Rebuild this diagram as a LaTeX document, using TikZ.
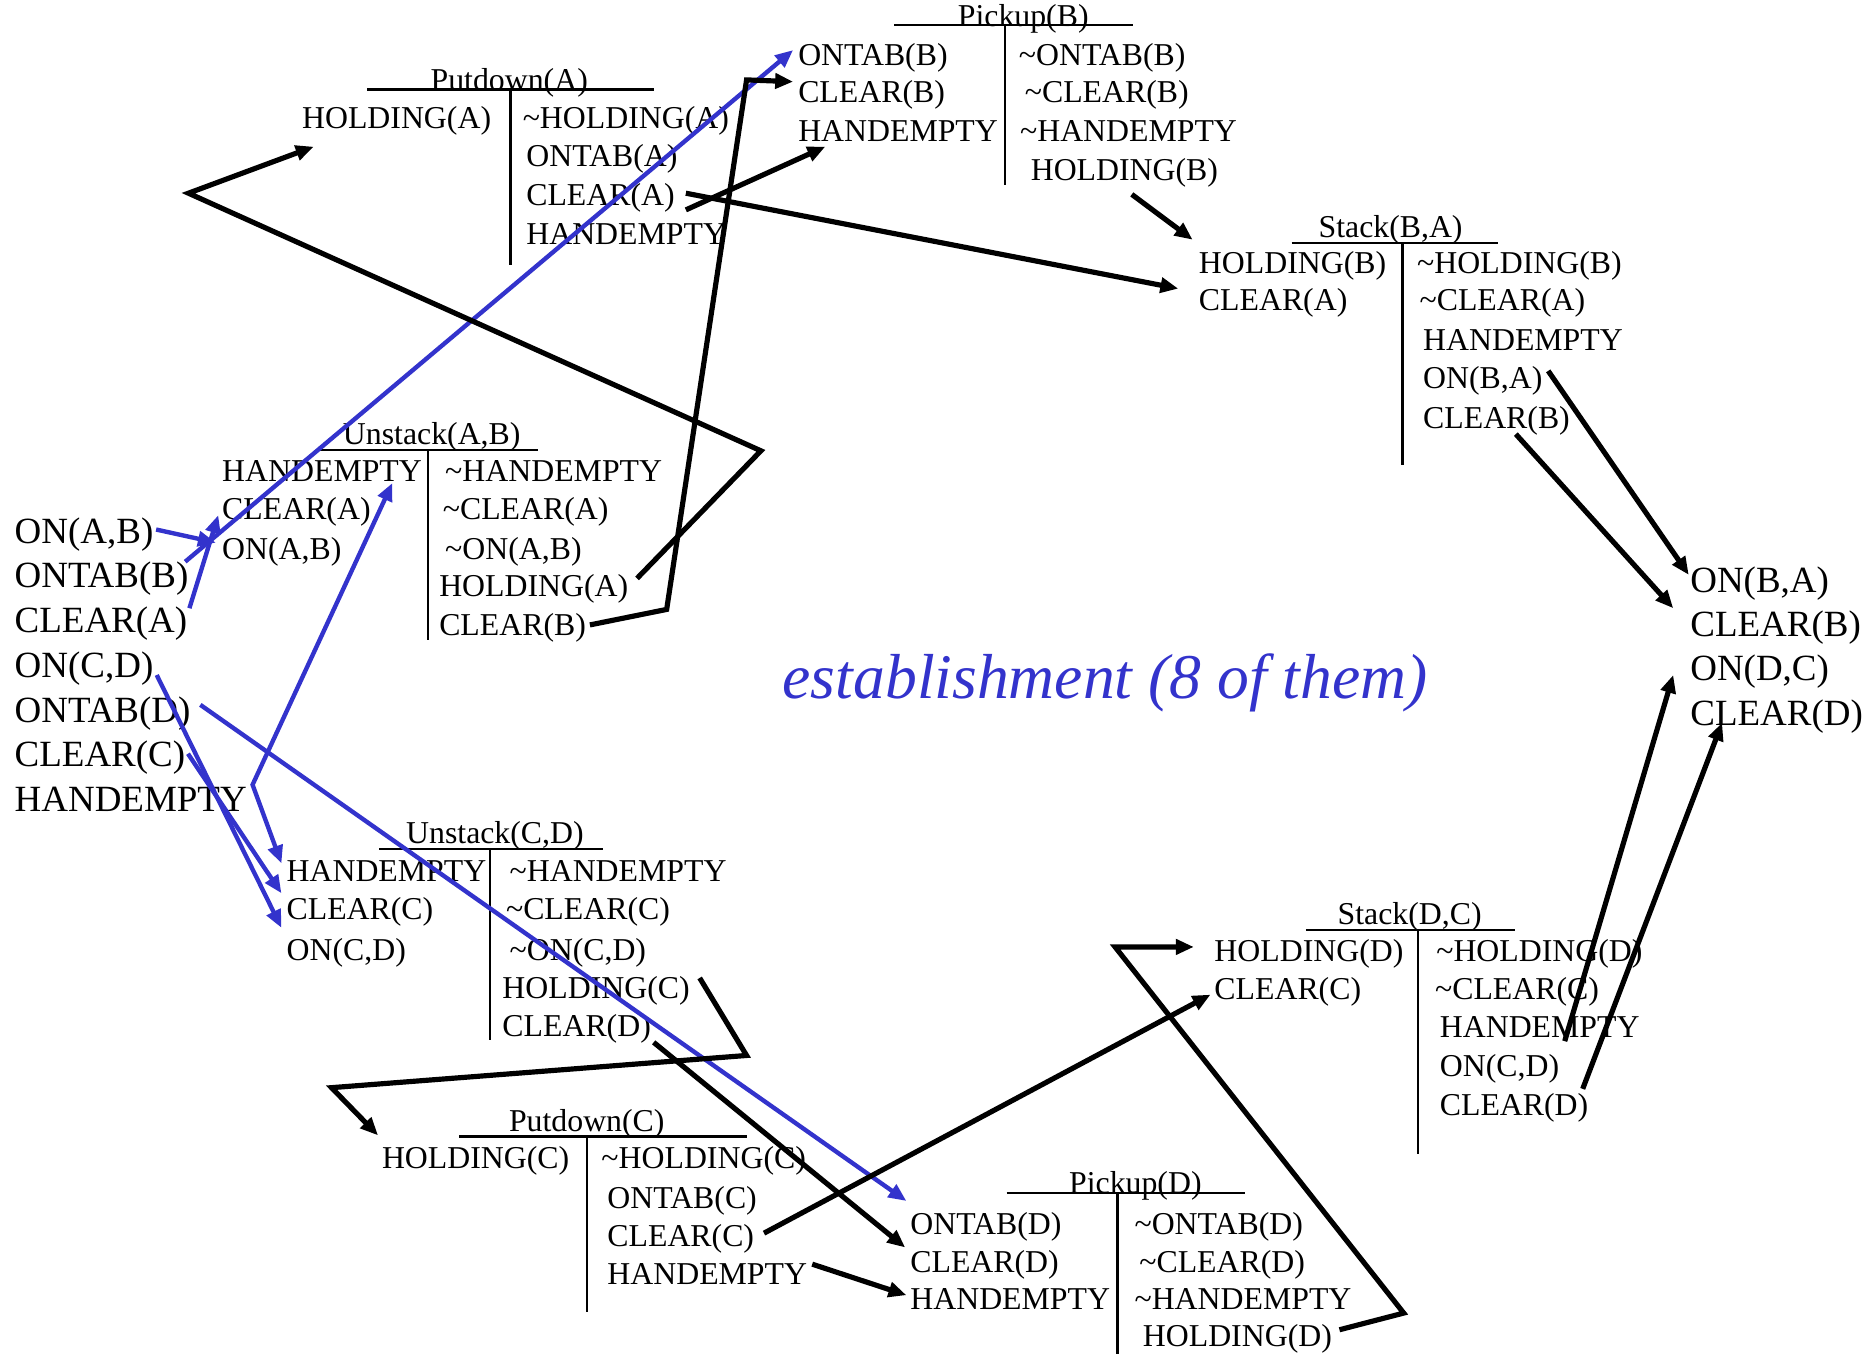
\documentclass[tikz,border=0pt]{standalone}
\usepackage{fontspec}
\setmainfont{Liberation Serif}
\usetikzlibrary{arrows.meta,calc}
\definecolor{estblue}{RGB}{51,51,204}
\begin{document}
\begin{tikzpicture}[x=0.6pt,y=-0.6pt,
  >={Triangle[length=9pt,width=7.5pt]},
  lit/.style={font=\fontsize{16}{19}\selectfont, inner sep=0pt, anchor=base west},
  state/.style={font=\fontsize{18.6}{22}\selectfont, inner sep=0pt, anchor=base west},
  optitle/.style={font=\fontsize{16}{19}\selectfont, inner sep=0pt, anchor=base},
  tbar/.style={line width=1.1pt},
  link/.style={line width=2.6pt, ->},
  blink/.style={line width=2.2pt, ->, color=estblue}
]
\useasboundingbox (0,0) rectangle (1568,1135);

% ---------- initial state ----------
\node[state] (in1) at (12,455.5) {ON(A,B)};
\node[state] (in2) at (12,493)   {ONTAB(B)};
\node[state] (in3) at (12,530.5) {CLEAR(A)};
\node[state] (in4) at (12,568)   {ON(C,D)};
\node[state] (in5) at (12,605.5) {ONTAB(D)};
\node[state] (in6) at (12,643)   {CLEAR(C)};
\node[state] (in7) at (12,680.5) {HANDEMPTY};

% ---------- goal ----------
\node[state] (gl1) at (1417,497)   {ON(B,A)};
\node[state] (gl2) at (1417,533.5) {CLEAR(B)};
\node[state] (gl3) at (1417,571)   {ON(D,C)};
\node[state] (gl4) at (1417,608)   {CLEAR(D)};

% ---------- Putdown(A) ----------
\node[optitle] (paT) at (427,76) {Putdown(A)};
\draw[tbar] (308,75) -- (548,75);
\draw[tbar] (428,75) -- (428,222);
\node[lit] (paL1) at (253,108) {HOLDING(A)};
\node[lit] (paR1) at (438,108) {\textasciitilde HOLDING(A)};
\node[lit] (paR2) at (441,140) {ONTAB(A)};
\node[lit] (paR3) at (441,172.5) {CLEAR(A)};
\node[lit] (paR4) at (441,205) {HANDEMPTY};

% ---------- Pickup(B) ----------
\node[optitle] (pbT) at (858,22) {Pickup(B)};
\draw[tbar] (750,21) -- (950,21);
\draw[tbar] (843,21) -- (843,155);
\node[lit] (pbL1) at (669,55) {ONTAB(B)};
\node[lit] (pbL2) at (669,86) {CLEAR(B)};
\node[lit] (pbL3) at (669,119) {HANDEMPTY};
\node[lit] (pbR1) at (854,55) {\textasciitilde ONTAB(B)};
\node[lit] (pbR2) at (859,86) {\textasciitilde CLEAR(B)};
\node[lit] (pbR3) at (855,119) {\textasciitilde HANDEMPTY};
\node[lit] (pbR4) at (864,151) {HOLDING(B)};

% ---------- Stack(B,A) ----------
\node[optitle] (sbT) at (1166,199) {Stack(B,A)};
\draw[tbar] (1083,204) -- (1256,204);
\draw[tbar] (1176,204) -- (1176,390);
\node[lit] (sbL1) at (1005,229) {HOLDING(B)};
\node[lit] (sbL2) at (1005,260) {CLEAR(A)};
\node[lit] (sbR1) at (1188,229) {\textasciitilde HOLDING(B)};
\node[lit] (sbR2) at (1190,260) {\textasciitilde CLEAR(A)};
\node[lit] (sbR3) at (1193,294) {HANDEMPTY};
\node[lit] (sbR4) at (1193,326) {ON(B,A)};
\node[lit] (sbR5) at (1193,359) {CLEAR(B)};

% ---------- Unstack(A,B) ----------
\node[optitle] (uaT) at (362,372.5) {Unstack(A,B)};
\draw[tbar] (265,377) -- (451,377);
\draw[tbar] (359,377) -- (359,537);
\node[lit] (uaL1) at (186,404) {HANDEMPTY};
\node[lit] (uaL2) at (186,436) {CLEAR(A)};
\node[lit] (uaL3) at (186,469) {ON(A,B)};
\node[lit] (uaR1) at (373,404) {\textasciitilde HANDEMPTY};
\node[lit] (uaR2) at (371,436) {\textasciitilde CLEAR(A)};
\node[lit] (uaR3) at (373,469) {\textasciitilde ON(A,B)};
\node[lit] (uaR4) at (368,500) {HOLDING(A)};
\node[lit] (uaR5) at (368,533) {CLEAR(B)};

% ---------- Unstack(C,D) ----------
\node[optitle] (ucT) at (415,707.5) {Unstack(C,D)};
\draw[tbar] (318,712) -- (506,712);
\draw[tbar] (411,712) -- (411,872);
\node[lit] (ucL1) at (240,739) {HANDEMPTY};
\node[lit] (ucL2) at (240,771) {CLEAR(C)};
\node[lit] (ucL3) at (240,805) {ON(C,D)};
\node[lit] (ucR1) at (427,739) {\textasciitilde HANDEMPTY};
\node[lit] (ucR2) at (424,771) {\textasciitilde CLEAR(C)};
\node[lit] (ucR3) at (427,805) {\textasciitilde ON(C,D)};
\node[lit] (ucR4) at (421,837) {HOLDING(C)};
\node[lit] (ucR5) at (421,869) {CLEAR(D)};

% ---------- Putdown(C) ----------
\node[optitle] (pcT) at (492,948.5) {Putdown(C)};
\draw[tbar] (385,953) -- (626,953);
\draw[tbar] (492,953) -- (492,1100);
\node[lit] (pcL1) at (320,980) {HOLDING(C)};
\node[lit] (pcR1) at (504,980) {\textasciitilde HOLDING(C)};
\node[lit] (pcR2) at (509,1013) {ONTAB(C)};
\node[lit] (pcR3) at (509,1045.5) {CLEAR(C)};
\node[lit] (pcR4) at (509,1077) {HANDEMPTY};

% ---------- Pickup(D) ----------
\node[optitle] (pdT) at (952,1001) {Pickup(D)};
\draw[tbar] (844,1000) -- (1044,1000);
\draw[tbar] (937,1000) -- (937,1135);
\node[lit] (pdL1) at (763,1035) {ONTAB(D)};
\node[lit] (pdL2) at (763,1067) {CLEAR(D)};
\node[lit] (pdL3) at (763,1098) {HANDEMPTY};
\node[lit] (pdR1) at (951,1035) {\textasciitilde ONTAB(D)};
\node[lit] (pdR2) at (955,1067) {\textasciitilde CLEAR(D)};
\node[lit] (pdR3) at (951,1098) {\textasciitilde HANDEMPTY};
\node[lit] (pdR4) at (958,1129) {HOLDING(D)};

% ---------- Stack(D,C) ----------
\node[optitle] (sdT) at (1182,775.5) {Stack(D,C)};
\draw[tbar] (1095,780) -- (1270,780);
\draw[tbar] (1189,780) -- (1189,968);
\node[lit] (sdL1) at (1018,806) {HOLDING(D)};
\node[lit] (sdL2) at (1018,838) {CLEAR(C)};
\node[lit] (sdR1) at (1204,806) {\textasciitilde HOLDING(D)};
\node[lit] (sdR2) at (1203,838) {\textasciitilde CLEAR(C)};
\node[lit] (sdR3) at (1207,870) {HANDEMPTY};
\node[lit] (sdR4) at (1207,903) {ON(C,D)};
\node[lit] (sdR5) at (1207,935) {CLEAR(D)};

% ---------- caption ----------
\node[font=\fontsize{32}{38}\selectfont\itshape, text=estblue, inner sep=0pt, anchor=base west]
  (est) at (656,586) {establishment (8 of them)};

% ---------- establishment links from the initial state ----------
\draw[blink] ($(in2.base east)+(-3,-22)$) -- ($(pbL1.base west)+(-4,-13)$);
\draw[blink] ($(in1.base east)+(2,-11.5)$) -- ($(uaL3.base west)+(-5,-14)$);
\draw[blink] ($(in3.base east)+(1.5,-20.5)$) -- ($(uaL2.base west)+(-3,-4)$);
\draw[blink, <->] ($(uaL1.base west)+(143,1)$) -- ($(in7.base east)+(4.5,-22.5)$)
  -- ($(ucL1.base west)+(-4,-15)$);
\draw[blink] ($(in4.base east)+(2.5,-2)$) -- ($(ucL3.base west)+(-4,-27)$);
\draw[blink] ($(in6.base east)+(2,-11)$) -- ($(ucL2.base west)+(-4,-22)$);
\draw[blink] ($(in5.base east)+(8,-14.5)$) -- ($(pdL1.base west)+(-3,-28)$);

% ---------- establishment links between operators ----------
\draw[link] ($(uaR4.base east)+(7,-15)$) -- (638,378) -- (158,162)
  -- ($(paL1.base west)+(10,15)$);
\draw[link] ($(uaR5.base east)+(3,-9)$) -- (559,511) -- (626,67)
  -- ($(pbL2.base west)+(-4,-17.5)$);
\draw[link] ($(paR3.base east)+(9,3.5)$) -- ($(pbL3.base west)+(23,4)$);
\draw[link] ($(paR3.base east)+(9,-10.5)$) -- ($(sbL2.base west)+(-17,-18)$);
\draw[link] ($(pbR4.base west)+(85,12)$) -- ($(sbL1.base west)+(-5,-28)$);
\draw[link] ($(sbR4.base east)+(4.5,-15)$) -- ($(gl1.base west)+(-1,-15)$);
\draw[link] ($(sbR5.base west)+(78,5)$) -- ($(gl2.base west)+(-14,-23.5)$);
\draw[link] ($(sdR3.base west)+(105,3)$) -- ($(gl3.base west)+(-14,-5)$);
\draw[link] ($(sdR5.base east)+(-5,-22)$) -- ($(gl4.base west)+(27,-2)$);
\draw[link] ($(pdR4.base east)+(6,-14)$) -- (1177,1101) -- (935,794)
  -- ($(sdL1.base west)+(-17,-12)$);
\draw[link] ($(pcR3.base east)+(8,-11.5)$) -- ($(sdL2.base west)+(-3,-4)$);
\draw[link] ($(pcR4.base east)+(4,-17)$) -- ($(pdL3.base west)+(-3,-12)$);
\draw[link] ($(ucR5.base east)+(2,5)$) -- ($(pdL2.base west)+(-4,-21)$);
\draw[link] ($(ucR4.base east)+(8,-17)$) -- (626,885) -- (278,912)
  -- ($(pcL1.base west)+(-3,-28)$);
\end{tikzpicture}
\end{document}
